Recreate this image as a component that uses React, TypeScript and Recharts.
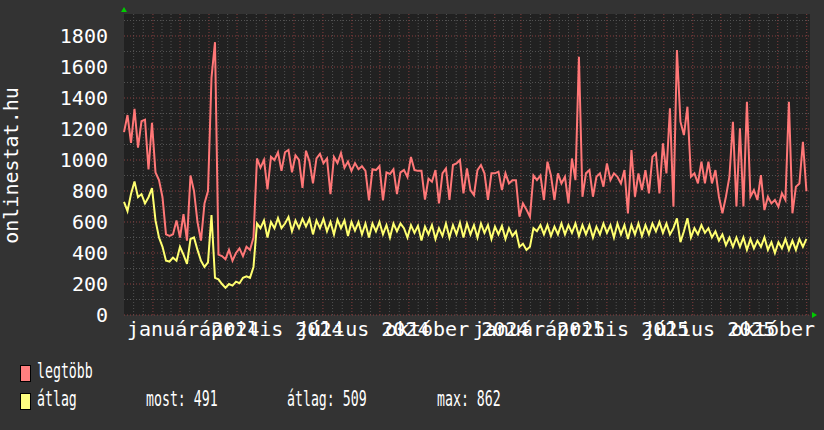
import {
  LineChart,
  Line,
  XAxis,
  YAxis,
  ReferenceLine,
  ReferenceArea,
  ReferenceDot,
} from 'recharts'

// napi minták, kb. 3,75 naponként (2024. január 1-től)
const STEP_DAYS = 3.747
const X_END = 734.5
const Y_TOP = 1942

const LEGTOBB = [
  1180, 1290, 1110, 1330, 1080, 1250, 1260, 940, 1240, 920,
  870, 760, 520, 510, 520, 610, 500, 650, 480, 900,
  800, 600, 480, 720, 800, 1530, 1760, 390, 380, 360,
  420, 350, 400, 430, 380, 440, 420, 500, 1010, 950,
  1000, 810, 1020, 1000, 1050, 930, 1050, 1065, 920, 1030,
  1000, 820, 1060, 990, 850, 1010, 1040, 980, 1010, 780,
  1020, 980, 1045, 950, 990, 930, 980, 940, 960, 930,
  740, 940, 935, 960, 740, 920, 910, 940, 780, 920,
  935, 890, 1020, 935, 930, 930, 745, 880, 860, 935,
  720, 914, 946, 742, 968, 978, 1000, 785, 946, 806,
  774, 935, 968, 914, 742, 914, 914, 925, 806, 914,
  849, 870, 870, 634, 720, 680, 634, 900, 870, 900,
  742, 989, 900, 742, 914, 849, 892, 720, 1010, 870,
  1666, 763, 914, 935, 763, 892, 914, 828, 978, 870,
  914, 892, 849, 935, 656, 1064, 763, 914, 806, 935,
  785, 1021, 1043, 785, 1107, 914, 1333, 699, 1709, 1247,
  1161, 1344, 892, 914, 849, 989, 849, 989, 849, 935,
  763, 656, 763, 892, 1247, 700, 1204, 700, 1376, 763,
  806, 742, 903, 677, 763, 720, 742, 699, 785, 742,
  1376, 656, 828, 849, 1118, 800,
]

const ATLAG = [
  730, 670, 780, 862, 760, 780, 720, 760, 819, 610,
  500, 440, 350, 345, 370, 350, 440, 390, 330, 490,
  500, 420, 350, 310, 340, 645, 240, 230, 200, 175,
  200, 190, 215, 205, 240, 250, 240, 310, 590, 560,
  610, 500, 600, 560, 626, 560, 590, 632, 540, 610,
  560, 620, 570, 620, 520, 610, 560, 620, 540, 600,
  520, 615, 560, 610, 510, 600, 545, 600, 520, 590,
  500, 590, 540, 600, 520, 580, 500, 590, 540, 590,
  560, 500, 580, 530, 575, 480, 570, 520, 580, 490,
  560, 510, 590, 500, 580, 520, 595, 500, 590, 520,
  580, 500, 590, 530, 580, 490, 570, 520, 575, 490,
  560, 510, 540, 440, 460, 420, 440, 560, 540, 580,
  520, 580, 510, 570, 520, 590, 520, 580, 530, 590,
  510, 580, 520, 580, 500, 570, 520, 590, 530, 580,
  500, 590, 520, 580, 490, 580, 520, 590, 510, 580,
  520, 590, 540, 600, 530, 590, 520, 560, 624, 470,
  540, 624, 500, 560, 520, 580, 530, 560, 500, 540,
  480, 520, 450, 500, 440, 500, 440, 500, 420, 490,
  430, 480, 440, 500, 420, 470, 400, 470, 430, 490,
  420, 480, 420, 490, 440, 491,
]

const MONTH_START_DAYS = [
  0, 31, 60, 91, 121, 152, 182, 213, 244, 274, 305, 335,
  366, 397, 425, 456, 486, 517, 547, 578, 609, 639, 670, 700, 731,
]
const QUARTER_DAYS = [0, 91, 182, 274, 366, 456, 547, 639]
const QUARTER_LABELS = [
  'január 2024',
  'április 2024',
  'július 2024',
  'október 2024',
  'január 2025',
  'április 2025',
  'július 2025',
  'október 2025',
]
// a feliratok eltolása a negyedév kezdetéhez képest (px)
const LABEL_DX = [3, -10, 3, 5, 7, -5, 8, 10]
const Y_TICKS = [0, 200, 400, 600, 800, 1000, 1200, 1400, 1600, 1800]
const Y_MINOR = [100, 300, 500, 700, 900, 1100, 1300, 1500, 1700, 1900]

const RED = '#ff7777'
const YELLOW = '#ffff70'
const GRID_MINOR = '#525252'
const GRID_MAJOR = '#873f3f'
const FONT = '"DejaVu Sans Mono", monospace'

// harmadolás a hónapokon belül (finom rács)
const minorDays: number[] = []
MONTH_START_DAYS.slice(0, -1).forEach((d, i) => {
  const len = MONTH_START_DAYS[i + 1] - d
  minorDays.push(d + len / 3, d + (2 * len) / 3)
})

const data = LEGTOBB.map((v, i) => ({
  day: i * STEP_DAYS,
  legtobb: v,
  atlag: ATLAG[i],
}))

function XTick({ x, payload }: any) {
  const idx = QUARTER_DAYS.indexOf(payload.value)
  return (
    <text x={x + LABEL_DX[idx]} y={336} fill="#ffffff" fontSize={20} fontFamily={FONT} textAnchor="start">
      {QUARTER_LABELS[idx]}
    </text>
  )
}

function YTick({ y, payload }: any) {
  return (
    <text x={108} y={y} dy="0.36em" fill="#ffffff" fontSize={20} fontFamily={FONT} textAnchor="end">
      {payload.value}
    </text>
  )
}

function YLabel({ viewBox }: any) {
  const cy = viewBox.y + viewBox.height / 2 + 1
  return (
    <text
      x={18}
      y={cy}
      transform={`rotate(-90, 18, ${cy})`}
      fill="#ffffff"
      fontSize={20}
      fontFamily={FONT}
      textAnchor="middle"
    >
      onlinestat.hu
    </text>
  )
}

const upArrow = ({ cx, cy }: any) => (
  <polygon points={`${cx - 3},${cy - 2} ${cx + 3},${cy - 2} ${cx},${cy - 7}`} fill="#00cc00" />
)
const rightArrow = ({ cx, cy }: any) => (
  <polygon points={`${cx + 2},${cy - 3} ${cx + 2},${cy + 3} ${cx + 7},${cy}`} fill="#00cc00" />
)

function LegendText({ x, y, children }: { x: number; y: number; children: string }) {
  return (
    <text
      transform={`translate(${x},${y}) scale(0.63,1)`}
      fill="#ffffff"
      fontSize={21}
      fontFamily={FONT}
    >
      {children}
    </text>
  )
}

export default function App() {
  return (
    <div
      style={{
        position: 'fixed',
        left: 0,
        top: 0,
        width: 824,
        height: 430,
        background: '#333333',
        overflow: 'hidden',
      }}
    >
      <LineChart
        width={824}
        height={430}
        data={data}
        margin={{ top: 14, right: 14, bottom: 85, left: 8 }}
      >
        <XAxis
          type="number"
          dataKey="day"
          domain={[0, X_END]}
          ticks={QUARTER_DAYS}
          interval={0}
          tick={<XTick />}
          axisLine={false}
          tickLine={false}
          height={30}
        />
        <YAxis
          type="number"
          domain={[0, Y_TOP]}
          ticks={Y_TICKS}
          interval={0}
          tick={<YTick />}
          axisLine={false}
          tickLine={false}
          width={116}
          label={<YLabel />}
        />
        <ReferenceArea x1={0} x2={X_END} y1={0} y2={Y_TOP} fill="#212121" fillOpacity={1} stroke="none" />
        {minorDays.map((d) => (
          <ReferenceLine key={`vm${d}`} x={d} stroke={GRID_MINOR} strokeDasharray="1 2" />
        ))}
        {Y_MINOR.map((v) => (
          <ReferenceLine key={`hm${v}`} y={v} stroke={GRID_MINOR} strokeDasharray="1 2" />
        ))}
        {MONTH_START_DAYS.slice(1).map((d) => (
          <ReferenceLine key={`vM${d}`} x={d} stroke={GRID_MAJOR} strokeDasharray="1 2" />
        ))}
        {Y_TICKS.map((v) => (
          <ReferenceLine key={`hM${v}`} y={v} stroke={GRID_MAJOR} strokeDasharray="1 2" />
        ))}
        <Line
          type="linear"
          dataKey="legtobb"
          stroke={RED}
          strokeWidth={2}
          dot={false}
          isAnimationActive={false}
        />
        <Line
          type="linear"
          dataKey="atlag"
          stroke={YELLOW}
          strokeWidth={2}
          dot={false}
          isAnimationActive={false}
        />
        <ReferenceDot x={0} y={Y_TOP} r={0} ifOverflow="visible" shape={upArrow} />
        <ReferenceDot x={X_END} y={0} r={0} ifOverflow="visible" shape={rightArrow} />
      </LineChart>
      <svg
        width={824}
        height={430}
        style={{ position: 'absolute', left: 0, top: 0, pointerEvents: 'none' }}
      >
        <rect x={20.5} y={365.5} width={10} height={16} fill="#ff7f7f" stroke="#000000" />
        <rect x={20.5} y={393.5} width={10} height={16} fill="#ffff80" stroke="#000000" />
        <LegendText x={37} y={378}>legtöbb</LegendText>
        <LegendText x={37} y={406}>átlag</LegendText>
        <LegendText x={146} y={406}>most: 491</LegendText>
        <LegendText x={287} y={406}>átlag: 509</LegendText>
        <LegendText x={437} y={406}>max: 862</LegendText>
      </svg>
    </div>
  )
}
